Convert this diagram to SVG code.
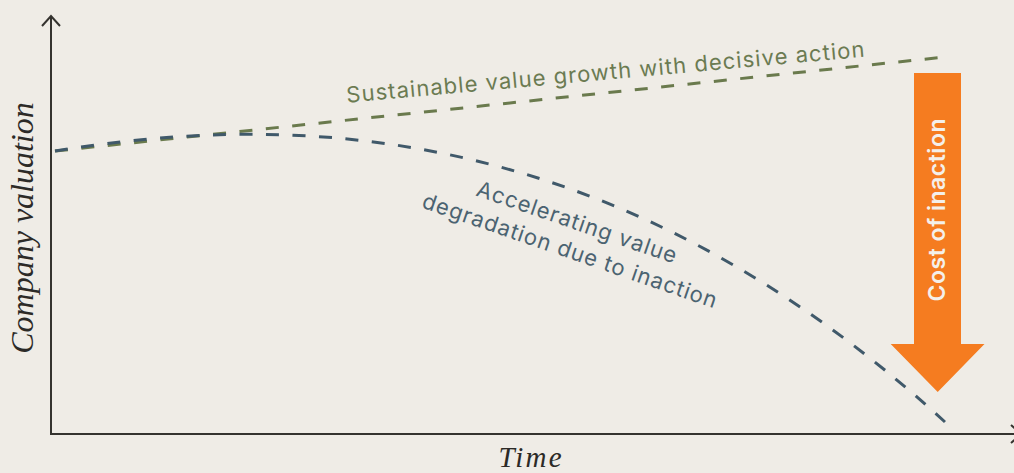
<svg xmlns="http://www.w3.org/2000/svg" width="1014" height="473" viewBox="0 0 1014 473">
  <style>
    .axis { fill: none; stroke: #35332f; stroke-width: 2; stroke-linecap: butt; stroke-linejoin: miter; }
    .axis-label { font-family: "Liberation Serif", "DejaVu Serif", serif; font-style: italic; fill: #2c2a27; }
    .curve { fill: none; stroke-width: 3; stroke-dasharray: 13 13.5; }
    .green { stroke: #6a7a4d; }
    .blue { stroke: #40596a; }
    .lbl { font-family: Inter, "Open Sans", "Liberation Sans", sans-serif; font-size: 22px; }
    .lbl-green { fill: #6b7b52; }
    .lbl-blue { fill: #4b6371; }
    .cost { font-family: Inter, "Open Sans", "Liberation Sans", sans-serif; font-size: 23px; font-weight: 600; fill: #f4f0ea; }
  </style>
  <rect x="0" y="0" width="1014" height="473" fill="#efece6"/>

  <g id="axes">
    <polyline class="axis" points="51,16 51,434 1020,434"/>
    <polyline class="axis" points="42,26 51,16 60,26"/>
    <polyline class="axis" points="1011,425 1021,434 1011,443"/>
    <text class="axis-label" font-size="32" transform="translate(33,228) rotate(-90)" text-anchor="middle">Company valuation</text>
    <text class="axis-label" font-size="29" x="530" y="466.5" text-anchor="middle" textLength="63">Time</text>
  </g>

  <g id="connectors">
    <path id="green-line" class="curve green" d="M55,151 L945,57"/>
    <path id="blue-line" class="curve blue" d="M55,151 C305,110 620,125 945,422"/>
  </g>

  <g id="label-growth">
    <text class="lbl lbl-green" transform="translate(606,79.7) rotate(-5.07)" text-anchor="middle" textLength="520">Sustainable value growth with decisive action</text>
  </g>

  <g id="label-degradation">
    <text class="lbl lbl-blue" transform="translate(572,244) rotate(19)" text-anchor="middle">
      <tspan x="1" y="-14.6" textLength="210">Accelerating value</tspan>
      <tspan x="0" y="14.6" textLength="310">degradation due to inaction</tspan>
    </text>
  </g>

  <g id="cost-arrow">
    <polygon points="914,73 961,73 961,344 984.5,344 937.7,392 890.7,344 914,344" fill="#f57c20"/>
    <text class="cost" transform="translate(945,210) rotate(-90)" text-anchor="middle" textLength="183">Cost of inaction</text>
  </g>
</svg>
